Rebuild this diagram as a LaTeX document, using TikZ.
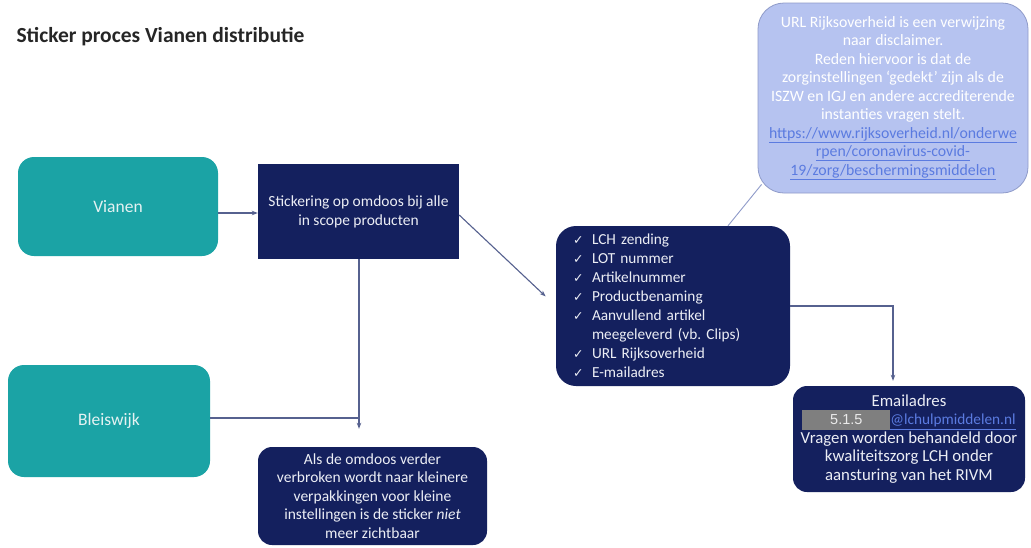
\documentclass[tikz,border=0pt]{standalone}
\usepackage{fontspec}
\setmainfont{Carlito}
\newfontfamily\symfont{DejaVu Sans}
\newfontfamily\arialfont{Liberation Sans}
\usetikzlibrary{arrows.meta}
\definecolor{teal1}{HTML}{1BA3A5}
\definecolor{navy1}{HTML}{14205E}
\definecolor{calloutfill}{HTML}{B6C3F0}
\definecolor{calloutdraw}{HTML}{8F9BC9}
\definecolor{linkblue}{HTML}{5B7BE0}
\definecolor{linecol}{HTML}{56618F}
\definecolor{grayb}{HTML}{7F7F7F}
\definecolor{boxtext}{HTML}{ECEEF5}
\definecolor{tealtext}{HTML}{E4F2F2}
\frenchspacing
\newcommand\ckm{\makebox[19pt][l]{{\symfont\fontsize{12.5}{12.5}\selectfont ✓}}}
\newcommand\cont{\hspace*{19pt}}
\tikzset{
  tealbox/.style={fill=teal1, draw=none, rounded corners=16pt, text=tealtext, font=\fontsize{17.5}{20}\selectfont},
  navybox/.style={fill=navy1, draw=none, rounded corners=14pt, text=boxtext, align=center},
  sqbox/.style={fill=navy1, draw=none, text=boxtext, align=center, font=\fontsize{15.5}{19}\selectfont},
  callbox/.style={fill=calloutfill, draw=calloutdraw, line width=0.8pt, rounded corners=26pt, text=white, align=center, font=\fontsize{15.8}{18.5}\selectfont},
  arr/.style={draw=linecol, line width=1.1pt, -{Stealth[length=6pt,width=4.5pt]}},
  plainline/.style={draw=linecol, line width=1.1pt},
  callline/.style={draw=calloutdraw, line width=0.9pt},
}
\begin{document}
\begin{tikzpicture}[x=1pt,y=-1pt]
\useasboundingbox (0,0) rectangle (1031,547);
\fill[white] (0,0) rectangle (1031,547);

\node[anchor=west, font=\bfseries\fontsize{21.5}{24}\selectfont, text=black!85] (title) at (13,37) {Sticker proces Vianen distributie};

\node[tealbox, minimum width=200pt, minimum height=99pt] (vianen) at (118,206.5) {Vianen};
\node[tealbox, minimum width=202pt, minimum height=112pt] (bleis) at (109,421) {Bleiswijk};

\node[sqbox, minimum width=201pt, minimum height=95pt] (stick) at (358.5,211.5)
  {Stickering op omdoos bij alle\\in scope producten};

\node[navybox, minimum width=229pt, minimum height=98pt, font=\fontsize{15.5}{18.5}\selectfont] (bottom) at (372.5,496)
  {Als de omdoos verder\\verbroken wordt naar kleinere\\verpakkingen voor kleine\\instellingen is de sticker \textit{niet}\\meer zichtbaar};

\node[navybox, rounded corners=20pt, text width=200pt, align=left, inner xsep=17pt, minimum height=160pt, font=\fontsize{15.3}{19}\selectfont] (list) at (673,306)
  {\ckm LCH zending\\\ckm LOT nummer\\\ckm Artikelnummer\\\ckm Productbenaming\\\ckm Aanvullend artikel\\\cont meegeleverd (vb. Clips)\\\ckm URL Rijksoverheid\\\ckm E-mailadres};

\node[navybox, minimum width=232pt, minimum height=106pt, font=\fontsize{16.8}{18.5}\selectfont] (email) at (909,439)
  {Emailadres\\{\setlength\fboxsep{0pt}\colorbox{grayb}{\makebox[88pt]{\rule[-5pt]{0pt}{20pt}\arialfont\fontsize{14.5}{14}\selectfont\color{white!92!black} 5.1.5}}}\textcolor{linkblue}{\fontsize{15.3}{18.5}\selectfont\underline{@lchulpmiddelen.nl}}\\Vragen worden behandeld door\\kwaliteitszorg LCH onder\\aansturing van het RIVM};

\node[callbox, minimum width=270pt, minimum height=190pt] (callout) at (893,98)
  {URL Rijksoverheid is een verwijzing\\naar disclaimer.\\Reden hiervoor is dat de\\zorginstellingen ‘gedekt’ zijn als de\\ISZW en IGJ en andere accrediterende\\instanties vragen stelt.\\
  \textcolor{linkblue}{\underline{https://www.rijksoverheid.nl/onderwe}}\\\textcolor{linkblue}{\underline{rpen/coronavirus-covid-}}\\\textcolor{linkblue}{\underline{19/zorg/beschermingsmiddelen}}};

% connectors
\path ([yshift=-6.5pt]vianen.east) coordinate (v1);
\draw[arr] (v1) -- (v1 -| stick.west);

\path ([xshift=0.5pt]stick.south) coordinate (s1);
\draw[arr, shorten >=18pt] (s1) -- (s1 |- bottom.north);

\path ([yshift=3pt]bleis.east) coordinate (b1);
\draw[plainline] (b1) -- (b1 -| s1);

\path ([yshift=-3.5pt]stick.east) coordinate (s2);
\draw[arr, shorten >=14pt] (s2) -- (list.west);

\path ([xshift=-16pt]email.north) coordinate (e1);
\draw[arr, shorten >=5pt] (list.east) -| (e1);

\path ([xshift=55pt]list.north) coordinate (l1);
\path ([xshift=4pt,yshift=9pt]callout.south west) coordinate (c1);
\draw[callline] (l1) -- (c1);
\end{tikzpicture}
\end{document}
